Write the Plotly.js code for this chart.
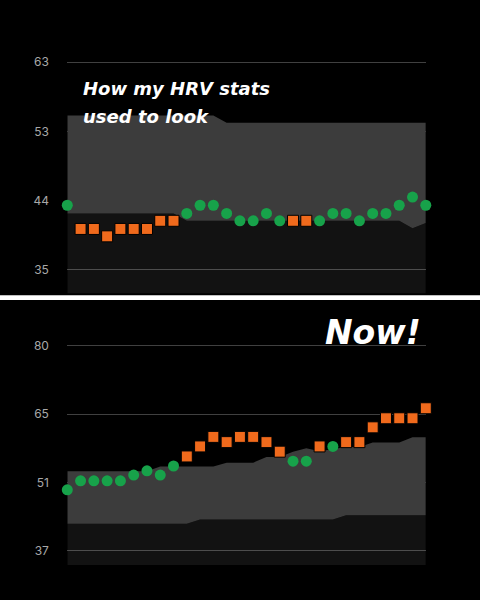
<!DOCTYPE html>
<html>
<head>
<meta charset="utf-8">
<script src="https://cdn.plot.ly/plotly-3.0.1.min.js"></script>
<style>
html,body{margin:0;padding:0;background:#000;}
#chart{width:480px;height:600px;}
</style>
</head>
<body>
<div id="chart"></div>
<script>
// ---- data ----
const days = [1,2,3,4,5,6,7,8,9,10,11,12,13,14,15,16,17,18,19,20,21,22,23,24,25,26,27,28];

// "How my HRV stats used to look" (top panel)
const topValues = [43.7,40.5,40.5,39.5,40.5,40.5,40.5,41.6,41.6,42.6,43.7,43.7,42.6,41.6,41.6,42.6,41.6,41.6,41.6,41.6,42.6,42.6,41.6,42.6,42.6,43.7,44.8,43.7];
const topStatus = ['in','out','out','out','out','out','out','out','out','in','in','in','in','in','in','in','in','out','out','in','in','in','in','in','in','in','in','in'];
const topRangeLow  = [42.6,42.6,42.6,42.6,42.6,42.6,42.6,42.6,42.6,41.6,41.6,41.6,41.6,41.6,41.6,41.6,41.6,41.6,41.6,41.6,41.6,41.6,41.6,41.6,41.6,41.6,40.6,41.3];
const topRangeHigh = [55.8,55.8,55.8,55.8,55.8,55.8,55.8,55.8,55.8,55.8,55.8,55.8,54.85,54.85,54.85,54.85,54.85,54.85,54.85,54.85,54.85,54.85,54.85,54.85,54.85,54.85,54.85,54.85];
const topTickVals = [35,44.333,53.667,63];
const topTickText = ['35','44','53','63'];

// "Now!" (bottom panel)
const bottomValues = [49.8,51.7,51.7,51.7,51.7,52.9,53.8,52.9,54.8,56.8,58.9,60.9,59.8,60.9,60.9,59.8,57.8,55.8,55.8,58.9,58.9,59.8,59.8,62.9,64.8,64.8,64.8,66.9];
const bottomStatus = ['in','in','in','in','in','in','in','in','in','out','out','out','out','out','out','out','out','in','in','out','in','out','out','out','out','out','out','out'];
const bottomRangeLow  = [42.7,42.7,42.7,42.7,42.7,42.7,42.7,42.7,42.7,42.7,43.6,43.6,43.6,43.6,43.6,43.6,43.6,43.6,43.6,43.6,43.6,44.5,44.5,44.5,44.5,44.5,44.5,44.5];
const bottomRangeHigh = [53.7,53.7,53.7,53.7,53.7,53.7,53.7,54.7,54.7,54.7,54.7,54.7,55.5,55.5,55.5,56.7,56.7,57.8,58.5,57.9,58.4,58.8,58.8,59.7,59.7,59.7,60.8,60.8];
const bottomTickVals = [37,51.333,65.667,80];
const bottomTickText = ['37','51','65','80'];

// ---- styles ----
const GREEN = '#17a24a';
const ORANGE = '#f06a1c';
const BAND = '#3c3c3c';
const DARK = 'rgba(255,255,255,0.07)';
const HEAD = 'DejaVu Sans, sans-serif';

function pick(vals, status, key){ return vals.map((v,i)=> status[i]===key ? v : null); }

function panel(xa, ya, vals, status, low, high){
  return [
    {x:days, y:low, xaxis:xa, yaxis:ya, mode:'lines', line:{width:0}, fill:'tozeroy', fillcolor:DARK, hoverinfo:'skip', showlegend:false},
    {x:days, y:high, xaxis:xa, yaxis:ya, mode:'lines', line:{width:0}, fill:'tonexty', fillcolor:BAND, hoverinfo:'skip', showlegend:false},
    {x:days, y:pick(vals,status,'in'), xaxis:xa, yaxis:ya, mode:'markers', cliponaxis:false,
      marker:{symbol:'circle', size:11, color:GREEN}, showlegend:false},
    {x:days, y:pick(vals,status,'out'), xaxis:xa, yaxis:ya, mode:'markers', cliponaxis:false,
      marker:{symbol:'square', size:11, color:ORANGE, line:{width:1,color:'#000'}}, showlegend:false}
  ];
}

const data = [].concat(
  panel('x','y', topValues, topStatus, topRangeLow, topRangeHigh),
  panel('x2','y2', bottomValues, bottomStatus, bottomRangeLow, bottomRangeHigh)
);

const W=480, H=600;
const px = v => v/W, py = v => 1 - v/H;
const xDom = [px(67.3), px(425.8)];

const yCommon = {
  showline:false, zeroline:false, gridcolor:'#404040', gridwidth:1,
  ticks:'outside', ticklen:15, tickcolor:'rgba(0,0,0,0)',
  tickfont:{family:'Inter, Roboto, sans-serif', size:12, color:'#a8a8a8'},
  fixedrange:true
};
const xCommon = {showgrid:false, zeroline:false, showline:false, showticklabels:false, ticks:'', range:[1,28], domain:xDom, fixedrange:true};

const layout = {
  width:W, height:H,
  margin:{l:0,r:0,t:0,b:0},
  paper_bgcolor:'#000', plot_bgcolor:'#000',
  showlegend:false,
  xaxis:Object.assign({}, xCommon, {anchor:'y'}),
  yaxis:Object.assign({}, yCommon, {anchor:'x', domain:[py(293.3), py(40)], range:[31.81, 66.01], tickvals:topTickVals, ticktext:topTickText}),
  xaxis2:Object.assign({}, xCommon, {anchor:'y2'}),
  yaxis2:Object.assign({}, yCommon, {anchor:'x2', domain:[py(565), py(305)], range:[34.06, 88.53], tickvals:bottomTickVals, ticktext:bottomTickText}),
  shapes:[
    {type:'rect', xref:'paper', yref:'paper', x0:0, x1:1, y0:py(300), y1:py(295.3), fillcolor:'#ffffff', line:{width:0}, layer:'above'}
  ],
  annotations:[
    {xref:'paper', yref:'paper', x:px(81), y:py(89), xanchor:'left', yanchor:'middle', showarrow:false,
      text:'How my HRV stats', font:{family:HEAD, size:18, weight:'bold', style:'italic', color:'#ffffff'}},
    {xref:'paper', yref:'paper', x:px(81), y:py(116), xanchor:'left', yanchor:'middle', showarrow:false,
      text:'used to look', font:{family:HEAD, size:18, weight:'bold', style:'italic', color:'#ffffff'}},
    {xref:'paper', yref:'paper', x:px(423), y:py(332), xanchor:'right', yanchor:'middle', showarrow:false,
      text:'Now!', font:{family:HEAD, size:33, weight:'bold', style:'italic', color:'#ffffff'}}
  ]
};

Plotly.newPlot('chart', data, layout, {staticPlot:true, displayModeBar:false});
</script>
</body>
</html>
